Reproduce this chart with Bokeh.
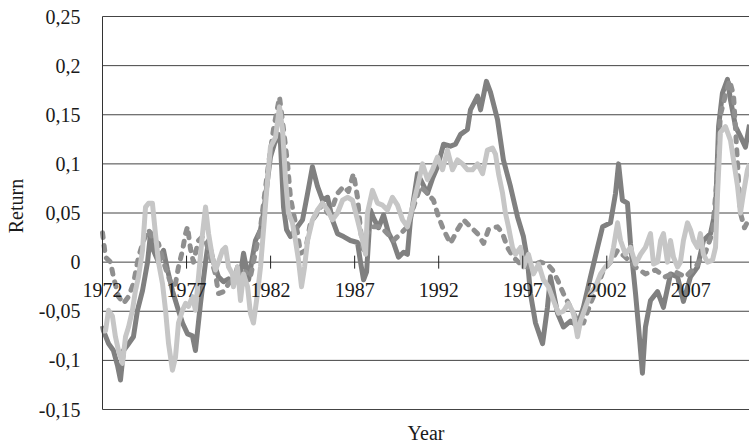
import math
from bokeh.plotting import figure
from bokeh.models import LinearAxis, FixedTicker, Range1d, Label
from bokeh.embed import file_html
from bokeh.resources import INLINE

# ---- data ----
years_a = [1972.00, 1972.06, 1972.36, 1972.65, 1972.89, 1973.07, 1973.25, 1973.55, 1973.84, 1974.08,
           1974.38, 1974.68, 1974.86, 1975.03, 1975.33, 1975.63, 1975.87, 1976.16, 1976.46, 1976.76,
           1977.06, 1977.35, 1977.53, 1977.83, 1978.13, 1978.31, 1978.60, 1978.90, 1979.20, 1979.50,
           1979.79, 1980.03, 1980.21, 1980.39, 1980.69, 1980.92, 1981.10, 1981.40, 1981.58, 1981.82,
           1981.99, 1982.29, 1982.47, 1982.59, 1982.77, 1982.95, 1983.18, 1983.60, 1983.90, 1984.20,
           1984.49, 1984.79, 1985.09, 1985.39, 1985.68, 1985.98, 1986.34, 1986.75, 1987.17, 1987.35,
           1987.53, 1987.71, 1987.94, 1988.12, 1988.42, 1988.72, 1989.01, 1989.31, 1989.61, 1989.91,
           1990.14, 1990.32, 1990.74, 1991.04, 1991.33, 1991.63, 1991.93, 1992.29, 1992.70, 1993.00,
           1993.30, 1993.71, 1993.89, 1994.31, 1994.49, 1994.84, 1995.08, 1995.50, 1995.85, 1996.27,
           1996.69, 1997.04, 1997.28, 1997.46, 1997.76, 1998.18, 1998.47, 1998.65, 1999.07, 1999.42,
           1999.84, 2000.26, 2000.61, 2001.03, 2001.45, 2001.75, 2002.22, 2002.52, 2002.70, 2002.93,
           2003.23, 2003.41, 2003.71, 2003.89, 2004.12, 2004.30, 2004.60, 2005.02, 2005.37, 2005.79,
           2006.21, 2006.56, 2006.98, 2007.40, 2007.75, 2008.17, 2008.47, 2008.65, 2008.88, 2009.18,
           2009.36, 2009.66, 2009.95, 2010.25, 2010.49]
returns_a = [-0.065, -0.07, -0.083, -0.09, -0.105, -0.12, -0.09, -0.083, -0.076, -0.049,
             -0.029, 0.0, 0.03, 0.012, 0.0, 0.012, -0.008, -0.029, -0.046, -0.062,
             -0.073, -0.075, -0.09, -0.042, 0.0, 0.022, 0.0, -0.015, -0.02, -0.017,
             -0.02, -0.005, -0.012, 0.009, -0.018, 0.005, 0.022, 0.033, 0.05, 0.084,
             0.107, 0.124, 0.13, 0.12, 0.056, 0.033, 0.026, 0.036, 0.043, 0.07,
             0.097, 0.077, 0.063, 0.066, 0.043, 0.029, 0.026, 0.022, 0.02, 0.0,
             -0.018, -0.01, 0.053, 0.045, 0.035, 0.048, 0.03, 0.02, 0.005, 0.01,
             0.008, 0.043, 0.09, 0.08, 0.07, 0.085, 0.097, 0.12, 0.118, 0.12,
             0.13, 0.135, 0.155, 0.169, 0.155, 0.184, 0.173, 0.145, 0.104, 0.077,
             0.046, 0.026, 0.002, -0.032, -0.062, -0.083, -0.046, -0.015, -0.052, -0.066,
             -0.06, -0.065, -0.046, -0.015, 0.015, 0.036, 0.04, 0.07, 0.1, 0.063,
             0.06, 0.019, -0.032, -0.066, -0.113, -0.066, -0.039, -0.03, -0.046, -0.012,
             -0.015, -0.04, -0.015, -0.005, 0.022, 0.029, 0.053, 0.138, 0.172, 0.186,
             0.165, 0.138, 0.128, 0.117, 0.14]

years_b = [1972.00, 1972.18, 1972.48, 1972.65, 1972.95, 1973.25, 1973.55, 1973.84, 1974.14, 1974.44,
           1974.74, 1975.03, 1975.33, 1975.63, 1975.93, 1976.16, 1976.34, 1976.52, 1976.76, 1976.94,
           1977.06, 1977.23, 1977.41, 1977.71, 1977.95, 1978.19, 1978.42, 1978.72, 1978.90, 1979.20,
           1979.50, 1979.91, 1980.21, 1980.51, 1980.80, 1981.10, 1981.40, 1981.58, 1981.88, 1982.17,
           1982.53, 1982.77, 1983.01, 1983.18, 1983.36, 1983.60, 1983.78, 1984.08, 1984.37, 1984.79,
           1985.09, 1985.39, 1985.68, 1985.98, 1986.34, 1986.63, 1986.93, 1987.17, 1987.35, 1987.53,
           1987.76, 1988.12, 1988.54, 1988.95, 1989.31, 1989.73, 1990.14, 1990.50, 1990.92, 1991.33,
           1991.69, 1991.99, 1992.29, 1992.70, 1993.12, 1993.48, 1993.89, 1994.31, 1994.67, 1994.96,
           1995.50, 1995.80, 1996.09, 1996.45, 1996.87, 1997.28, 1997.64, 1998.06, 1998.47, 1998.77,
           1999.07, 1999.42, 1999.84, 2000.26, 2000.61, 2001.03, 2001.45, 2001.80, 2002.22, 2002.64,
           2003.11, 2003.71, 2004.30, 2004.90, 2005.49, 2006.09, 2006.68, 2007.28, 2007.87, 2008.29,
           2008.53, 2008.76, 2009.06, 2009.30, 2009.54, 2009.78, 2009.95, 2010.19, 2010.49]
returns_b = [0.03, 0.005, 0.0, -0.015, -0.035, -0.042, -0.035, -0.022, 0.005, 0.022,
             0.033, 0.022, 0.019, 0.0, -0.015, -0.025, -0.022, -0.005, 0.012, 0.029,
             0.036, 0.014, 0.0, 0.022, 0.026, 0.019, 0.005, -0.012, -0.032, -0.03,
             -0.022, -0.015, -0.02, -0.01, -0.015, 0.01, 0.035, 0.06, 0.1, 0.135,
             0.168, 0.135, 0.1, 0.066, 0.05, 0.03, 0.009, 0.012, 0.04, 0.05,
             0.06, 0.05, 0.056, 0.07, 0.077, 0.072, 0.09, 0.066, 0.033, 0.009,
             0.029, 0.036, 0.036, 0.029, 0.022, 0.029, 0.036, 0.056, 0.077, 0.07,
             0.063, 0.046, 0.033, 0.019, 0.033, 0.043, 0.036, 0.029, 0.019, 0.033,
             0.036, 0.029, 0.015, 0.005, -0.002, -0.005, -0.002, 0.0, -0.002, -0.008,
             -0.018, -0.032, -0.046, -0.06, -0.062, -0.042, -0.025, -0.008, 0.0, 0.012,
             0.005, -0.005, -0.012, -0.008, -0.015, -0.01, -0.015, -0.005, 0.01, 0.03,
             0.08, 0.15, 0.17, 0.185, 0.17, 0.1, 0.05, 0.035, 0.045]

years_c = [1972.00, 1972.18, 1972.36, 1972.59, 1972.77, 1972.95, 1973.19, 1973.37, 1973.55, 1973.78,
           1973.96, 1974.14, 1974.38, 1974.56, 1974.74, 1974.97, 1975.15, 1975.33, 1975.57, 1975.75,
           1975.93, 1976.16, 1976.34, 1976.52, 1976.76, 1976.94, 1977.12, 1977.35, 1977.53, 1977.71,
           1977.95, 1978.13, 1978.31, 1978.54, 1978.72, 1978.90, 1979.14, 1979.32, 1979.50, 1979.73,
           1979.79, 1980.03, 1980.21, 1980.39, 1980.63, 1980.80, 1980.98, 1981.22, 1981.40, 1981.58,
           1981.82, 1981.99, 1982.29, 1982.53, 1982.71, 1982.89, 1983.06, 1983.30, 1983.48, 1983.66,
           1983.84, 1984.02, 1984.20, 1984.49, 1984.79, 1985.09, 1985.39, 1985.68, 1985.98, 1986.28,
           1986.57, 1986.87, 1987.17, 1987.47, 1987.65, 1987.76, 1988.06, 1988.36, 1988.66, 1988.95,
           1989.25, 1989.55, 1989.85, 1990.14, 1990.44, 1990.74, 1991.04, 1991.33, 1991.63, 1991.93,
           1992.23, 1992.52, 1992.82, 1993.12, 1993.42, 1993.71, 1994.01, 1994.31, 1994.61, 1994.90,
           1995.20, 1995.38, 1995.56, 1995.80, 1995.97, 1996.15, 1996.39, 1996.57, 1996.87, 1997.04,
           1997.34, 1997.64, 1997.94, 1998.23, 1998.53, 1998.83, 1999.13, 1999.42, 1999.72, 2000.02,
           2000.26, 2000.44, 2000.73, 2001.03, 2001.33, 2001.63, 2001.92, 2002.22, 2002.40, 2002.64,
           2002.82, 2003.11, 2003.41, 2003.71, 2004.01, 2004.30, 2004.60, 2004.78, 2005.02, 2005.20,
           2005.37, 2005.61, 2005.79, 2005.97, 2006.21, 2006.38, 2006.56, 2006.80, 2006.98, 2007.16,
           2007.40, 2007.57, 2007.75, 2007.99, 2008.29, 2008.47, 2008.59, 2008.76, 2009.06, 2009.36,
           2009.54, 2009.78, 2009.95, 2010.13, 2010.37, 2010.49]
returns_c = [-0.07, -0.07, -0.049, -0.055, -0.076, -0.09, -0.103, -0.076, -0.066, -0.049,
             -0.029, -0.015, 0.012, 0.056, 0.06, 0.06, 0.029, 0.0, -0.022, -0.049,
             -0.083, -0.11, -0.097, -0.062, -0.049, -0.042, -0.045, -0.035, -0.049, -0.015,
             0.029, 0.056, 0.029, 0.005, -0.008, 0.0, 0.012, 0.015, -0.005, -0.012,
             -0.025, -0.005, -0.039, -0.012, -0.025, -0.052, -0.062, -0.032, -0.005, 0.033,
             0.084, 0.117, 0.127, 0.158, 0.135, 0.084, 0.05, 0.04, 0.022, 0.002,
             -0.025, -0.005, 0.022, 0.043, 0.053, 0.06, 0.053, 0.043, 0.05, 0.063,
             0.066, 0.063, 0.043, 0.022, 0.008, 0.05, 0.073, 0.06, 0.058, 0.053,
             0.066, 0.058, 0.043, 0.036, 0.056, 0.077, 0.1, 0.084, 0.094, 0.107,
             0.094, 0.114, 0.094, 0.104, 0.1, 0.094, 0.094, 0.1, 0.09, 0.114,
             0.116, 0.11, 0.09, 0.07, 0.05, 0.036, 0.015, 0.008, 0.015, -0.005,
             0.008, -0.012, -0.002, -0.018, -0.025, -0.039, -0.052, -0.05, -0.042, -0.052,
             -0.076, -0.06, -0.046, -0.032, -0.025, -0.012, -0.005, 0.0, 0.015, 0.04,
             0.022, 0.008, 0.015, -0.002, 0.008, 0.015, 0.029, -0.002, 0.0, 0.022,
             0.029, 0.0, 0.022, 0.005, -0.005, 0.0, 0.022, 0.04, 0.033, 0.022,
             0.015, 0.029, 0.008, 0.0, 0.002, 0.015, 0.07, 0.132, 0.138, 0.124,
             0.104, 0.077, 0.05, 0.07, 0.094, 0.1]

x_ticks = [1972, 1977, 1982, 1987, 1992, 1997, 2002, 2007]
x_tick_labels = ["1972", "1977", "1982", "1987", "1992", "1997", "2002", "2007"]
y_ticks = [-0.15, -0.1, -0.05, 0, 0.05, 0.1, 0.15, 0.2, 0.25]
y_tick_labels = ["-0,15", "-0,1", "-0,05", "0", "0,05", "0,1", "0,15", "0,2", "0,25"]

# ---- layout ----
W, H = 749, 443
PLOT_L, PLOT_T, PLOT_B = 102, 16, 409          # pixel edges of the plotting area
X_START, X_END = x_ticks[0], 2010.49           # year at left axis / right edge
Y_MIN, Y_MAX = y_ticks[0], y_ticks[-1]
px_per_year = (W - PLOT_L) / (X_END - X_START)
px_per_unit = (PLOT_B - PLOT_T) / (Y_MAX - Y_MIN)
x_lo = X_START - PLOT_L / px_per_year
y_lo = Y_MIN - (H - PLOT_B) / px_per_unit
y_hi = Y_MAX + PLOT_T / px_per_unit

FONT = "Liberation Serif"
TXT = "#1a1a1a"
GRID = "#444444"

p = figure(width=W, height=H, output_backend="svg", toolbar_location=None,
           x_axis_type=None, y_axis_type=None,
           x_range=Range1d(x_lo, X_END), y_range=Range1d(y_lo, y_hi),
           min_border=0, min_border_left=0, min_border_right=0, min_border_top=0, min_border_bottom=0)
p.outline_line_color = None
p.background_fill_color = "white"
p.border_fill_color = "white"
p.xgrid.visible = False
p.ygrid.visible = False

# horizontal gridlines from the axis to the right edge
p.segment(x0=[X_START] * len(y_ticks), x1=[X_END] * len(y_ticks), y0=y_ticks, y1=y_ticks,
          line_color=GRID, line_width=1)

# y axis anchored at the first year
yax = LinearAxis(ticker=FixedTicker(ticks=y_ticks), fixed_location=X_START, bounds=(Y_MIN, Y_MAX))
yax.major_label_overrides = dict(zip(y_ticks, y_tick_labels))
yax.major_tick_out = 0
yax.major_tick_in = 0
yax.minor_tick_line_color = None
yax.axis_line_color = "#333333"
yax.major_label_standoff = 22
yax.major_label_text_font = FONT
yax.major_label_text_font_size = "20px"
yax.major_label_text_color = TXT
p.add_layout(yax, "left")

# y-axis title, centred on the plotting area
p.add_layout(Label(x=x_lo, y=(Y_MIN + Y_MAX) / 2, text="Return", x_offset=15, y_offset=7,
                   angle=math.pi / 2, text_align="center", text_baseline="middle",
                   text_font=FONT, text_font_size="20px", text_color=TXT))

p.line(years_a, returns_a, line_color="#808080", line_width=5, line_join="round", line_cap="butt")
p.line(years_b, returns_b, line_color="#8f8f8f", line_width=5, line_dash="5 8",
       line_join="round", line_cap="round")
p.line(years_c, returns_c, line_color="#c6c6c6", line_width=5, line_join="round", line_cap="butt")

# tick marks crossing the zero line
p.scatter(x_ticks, [0] * len(x_ticks), marker="dash", angle=1.5708, size=13,
          line_color="#222222", line_width=1)

# year labels under the zero line
for xt, txt in zip(x_ticks, x_tick_labels):
    p.add_layout(Label(x=xt, y=0, text=txt, y_offset=-28, text_align="center",
                       text_baseline="middle", text_font=FONT, text_font_size="20px",
                       text_color=TXT))

# x-axis title
p.add_layout(Label(x=(X_START + X_END) / 2, y=y_lo, text="Year", y_offset=11,
                   text_align="center", text_baseline="middle", text_font=FONT,
                   text_font_size="20px", text_color=TXT))

open("out.html", "w").write(file_html(p, INLINE))
